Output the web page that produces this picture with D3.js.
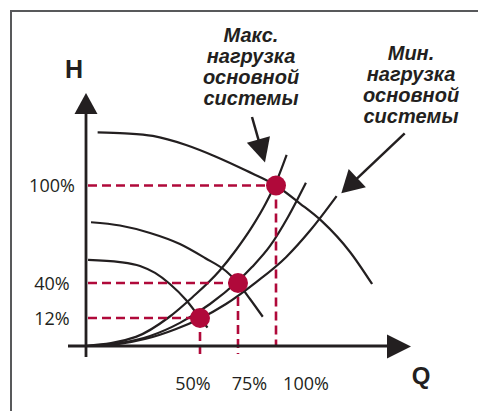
<!DOCTYPE html>
<html>
<head>
<meta charset="utf-8">
<script src="https://cdn.jsdelivr.net/npm/d3@7"></script>
<style>
  html, body { margin: 0; padding: 0; background: #fff; }
  svg { display: block; }
</style>
</head>
<body>
<svg id="chart" width="478" height="411"></svg>
<script>
// Duty points: flow Q (%) and head H (%) where each pump curve meets its system curve
const qTicks = [50, 75, 100];
const hTicks = [12, 40, 100];
const qTickLabels = ["50%", "75%", "100%"];
const hTickLabels = ["12%", "40%", "100%"];

// Pump curves at three speeds, as [Q, H]
const pumpFull = [[5.1,132.7],[17.1,132.1],[29.3,130.5],[43.9,124.9],[60.5,117.7],[80.3,109.2],[100,100],[115.8,88.9],[130.3,77.9],[148.7,59.1],[163.2,39.2]];
const pumpMid  = [[2.2,77.4],[14.9,75.4],[28.1,70.8],[41.2,64],[53.3,55.4],[67.4,47.1],[75,40],[82.9,27.2],[91.3,13]];
const pumpLow  = [[0.9,54.2],[14.9,52.9],[23.7,50.5],[30.3,46.2],[36.8,39.2],[43.9,26.4],[50,12],[54.9,7.9]];

// System curves, from maximum load (steepest) to minimum load (flattest), as [Q, H]
const systemMax = [[0,0],[21.9,3.9],[36.5,12.8],[46.8,28.8],[62.7,47.4],[73.7,60.3],[84.2,74.5],[93.4,89.2],[100.7,103.4],[107,118.8]];
const systemMid = [[0,0],[14.9,1.3],[28.1,4.3],[41.2,9.9],[56.6,23.2],[75,41.2],[84.2,49.8],[96.1,62.8],[107.9,80.6],[119.7,101.7]];
const systemMin = [[0,0],[13.2,0.7],[26.3,3.1],[39.5,7.3],[49.7,11.6],[67.1,23.2],[86.8,40.4],[106.6,55.9],[123,72.9],[139.9,93.5]];

const axisTitles = ["H", "Q"];
const noteMax = ["Макс.", "нагрузка", "основной", "системы"];
const noteMin = ["Мин.", "нагрузка", "основной", "системы"];

const ink = "#231f20";
const red = "#b0093a";

const svg = d3.select("#chart");

// Piecewise scales: the origin plus the three duty-point levels on each axis
const x = d3.scaleLinear().domain([0, ...qTicks]).range([86, 200, 238, 276]);
const y = d3.scaleLinear().domain([0, ...hTicks]).range([346, 318, 283, 185.5]);

// Frame
svg.append("rect")
  .attr("x", 11).attr("y", 11).attr("width", 520).attr("height", 460)
  .attr("fill", "none").attr("stroke", "#58595b").attr("stroke-width", 2);

// Curves
const line = d3.line().x(d => x(d[0])).y(d => y(d[1])).curve(d3.curveMonotoneX);
const curves = svg.append("g").attr("fill", "none").attr("stroke", ink).attr("stroke-width", 2.2);
[pumpFull, pumpMid, pumpLow, systemMax, systemMid, systemMin].forEach(c => {
  curves.append("path").attr("d", line(c));
});

// Dashed guides from the duty points to the axes
const duty = qTicks.map((q, i) => ({ q, h: hTicks[i], i }));
const guides = svg.append("g").attr("stroke", red).attr("stroke-width", 2.6)
  .attr("stroke-dasharray", "9,5").attr("fill", "none");
guides.selectAll("line.h").data(duty).join("line").attr("class", "h")
  .attr("x1", x(0) + 2).attr("x2", d => x(d.q))
  .attr("y1", d => y(d.h)).attr("y2", d => y(d.h));
guides.selectAll("line.v").data(duty).join("line").attr("class", "v")
  .attr("x1", d => x(d.q)).attr("x2", d => x(d.q))
  .attr("y1", d => y(d.h)).attr("y2", d => d.i < 2 ? y(0) + 8 : y(0));

// Axes with arrowheads
const axes = svg.append("g");
axes.append("line").attr("x1", x(0)).attr("x2", x(0)).attr("y1", y(0) + 11).attr("y2", 112)
  .attr("stroke", ink).attr("stroke-width", 2.8);
axes.append("line").attr("x1", x(0) - 18).attr("x2", 390).attr("y1", y(0)).attr("y2", y(0))
  .attr("stroke", ink).attr("stroke-width", 2.8);
axes.append("path").attr("fill", ink)
  .attr("d", `M${x(0)},93 L${x(0) - 11.5},114 L${x(0) + 11.5},114 Z`);
axes.append("path").attr("fill", ink)
  .attr("d", `M411,${y(0) + 0.5} L387,${y(0) - 11.5} L387,${y(0) + 12.5} Z`);

// Duty point markers
svg.append("g").selectAll("circle").data(duty).join("circle")
  .attr("cx", d => x(d.q)).attr("cy", d => y(d.h)).attr("r", 10)
  .attr("fill", red);

// Tick labels
const tickFont = "'Open Sans', 'Noto Sans', sans-serif";
svg.append("g").selectAll("text").data(hTickLabels).join("text")
  .attr("x", 52).attr("y", (d, i) => y(hTicks[i]) + 6.5)
  .attr("text-anchor", "middle").attr("font-family", tickFont).attr("font-size", 18)
  .attr("fill", ink).text(d => d);
svg.append("g").selectAll("text").data(qTickLabels).join("text")
  .attr("x", (d, i) => x(qTicks[0]) - 7 + i * 56.5).attr("y", 389.7)
  .attr("text-anchor", "middle").attr("font-family", tickFont).attr("font-size", 18)
  .attr("fill", ink).text(d => d);

// Axis titles
const boldFont = "'Liberation Sans', Arial, sans-serif";
svg.append("text").attr("x", 74).attr("y", 78).attr("text-anchor", "middle")
  .attr("font-family", boldFont).attr("font-weight", "bold").attr("font-size", 25)
  .attr("fill", ink).text(axisTitles[0]);
svg.append("text").attr("x", 421).attr("y", 384).attr("text-anchor", "middle")
  .attr("font-family", boldFont).attr("font-weight", "bold").attr("font-size", 24)
  .attr("fill", ink).text(axisTitles[1]);

// Callouts
function note(lines, cx, top, step) {
  const t = svg.append("text").attr("text-anchor", "middle")
    .attr("font-family", boldFont).attr("font-weight", "bold").attr("font-style", "italic")
    .attr("font-size", 20).attr("fill", ink);
  lines.forEach((s, i) => t.append("tspan").attr("x", cx).attr("y", top + i * step).text(s));
}
note(noteMax, 251, 41.6, 21.1);
note(noteMin, 411, 60, 20.9);

function arrow(x1, y1, x2, y2, len, hw) {
  const dx = x2 - x1, dy = y2 - y1, L = Math.hypot(dx, dy);
  const ux = dx / L, uy = dy / L;
  const bx = x2 - ux * len, by = y2 - uy * len;
  svg.append("line").attr("x1", x1).attr("y1", y1).attr("x2", bx + ux * 2).attr("y2", by + uy * 2)
    .attr("stroke", ink).attr("stroke-width", 2.5);
  svg.append("path").attr("fill", ink)
    .attr("d", `M${x2},${y2} L${bx - uy * hw},${by + ux * hw} L${bx + uy * hw},${by - ux * hw} Z`);
}
arrow(252, 117, 265, 162.5, 24, 12);
arrow(404.7, 133.3, 341.3, 193.3, 22, 12.5);
</script>
</body>
</html>
